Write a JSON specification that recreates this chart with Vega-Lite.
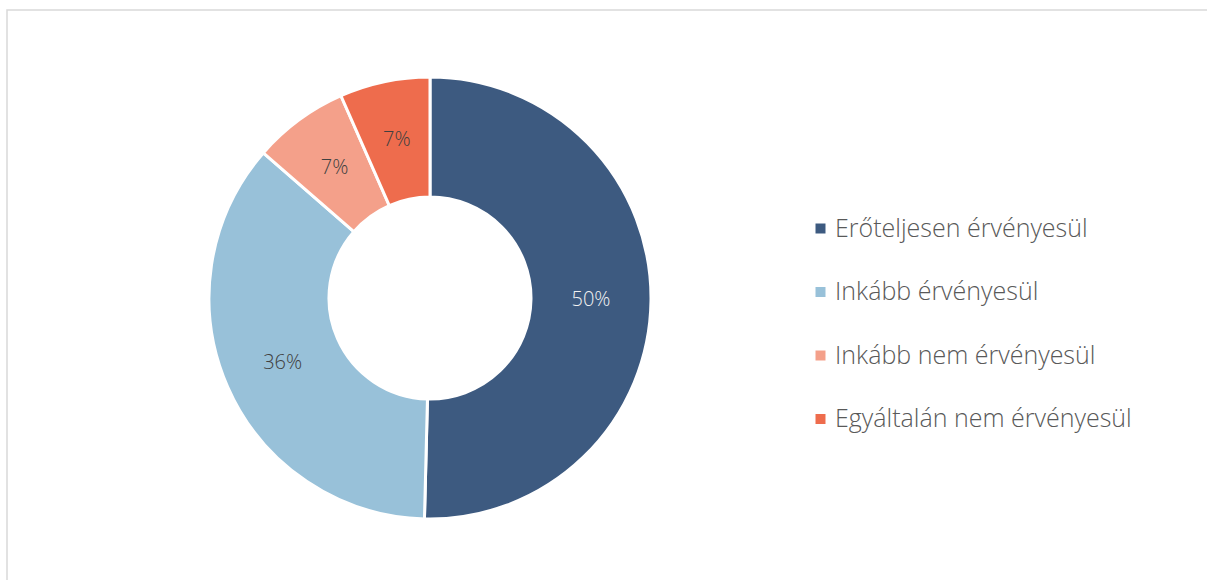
{
  "$schema": "https://vega.github.io/schema/vega-lite/v6.json",
  "width": 1205,
  "height": 575,
  "autosize": {"type": "none"},
  "padding": {"left": 7, "top": 10, "right": 0, "bottom": 0},
  "background": "#ffffff",
  "view": {"stroke": "#d9d9d9", "strokeWidth": 1.5, "fill": "#ffffff"},
  "config": {
    "view": {"stroke": "#d9d9d9", "strokeWidth": 1.5},
    "font": "Open Sans"
  },
  "data": {
    "values": [
      {"idx": 1, "cat": "Erőteljesen érvényesül", "share": 0.504},
      {"idx": 2, "cat": "Inkább érvényesül", "share": 0.36},
      {"idx": 3, "cat": "Inkább nem érvényesül", "share": 0.07},
      {"idx": 4, "cat": "Egyáltalán nem érvényesül", "share": 0.066}
    ]
  },
  "encoding": {
    "theta": {"field": "share", "type": "quantitative", "stack": true},
    "order": {"field": "idx", "type": "quantitative"}
  },
  "layer": [
    {
      "mark": {"type": "arc", "outerRadius": 221, "innerRadius": 101, "stroke": "#ffffff", "strokeWidth": 3, "x": 423, "y": 288},
      "encoding": {
        "color": {
          "field": "cat",
          "type": "nominal",
          "sort": ["Erőteljesen érvényesül", "Inkább érvényesül", "Inkább nem érvényesül", "Egyáltalán nem érvényesül"],
          "scale": {
            "domain": ["Erőteljesen érvényesül", "Inkább érvényesül", "Inkább nem érvényesül", "Egyáltalán nem érvényesül"],
            "range": ["#3d5a80", "#98c1d9", "#f4a08a", "#ee6c4d"]
          },
          "legend": {
            "title": null,
            "orient": "none",
            "legendX": 801,
            "legendY": 206,
            "symbolType": "square",
            "symbolSize": 100,
            "symbolStrokeWidth": 0,
            "labelFontSize": 25,
            "labelFont": "Open Sans",
            "labelFontWeight": 300,
            "labelColor": "#595959",
            "labelOffset": 2,
            "rowPadding": 37.5,
            "padding": 0,
            "labelLimit": 400
          }
        }
      }
    },
    {
      "mark": {"type": "text", "radius": 161, "fontSize": 20, "font": "Open Sans", "fontWeight": 300, "x": 423, "y": 288},
      "encoding": {
        "text": {"field": "share", "type": "quantitative", "format": ".0%"},
        "color": {
          "condition": {"test": "datum.idx === 1", "value": "#f2f2f2"},
          "value": "#404040"
        }
      }
    }
  ]
}
